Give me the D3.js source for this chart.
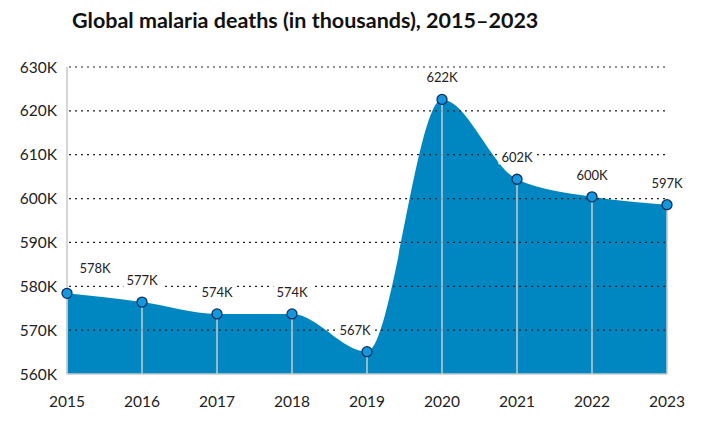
<!DOCTYPE html>
<html>
<head>
<meta charset="utf-8">
<script src="https://cdn.jsdelivr.net/npm/d3@7"></script>
<style>
  body { margin: 0; background: #fff; font-family: Lato, "DejaVu Sans", sans-serif; }
  .title { font-size: 21.5px; font-weight: 700; fill: #111; }
  .tick { font-size: 15.5px; fill: #222; }
  .lbl { font-size: 13px; fill: #222; }
</style>
</head>
<body>
<div id="container"><svg></svg></div>
<script>
const years = ['2015', '2016', '2017', '2018', '2019', '2020', '2021', '2022', '2023'];
// deaths in thousands
const deaths = [578.4, 576.4, 573.7, 573.7, 565.1, 622.6, 604.4, 600.4, 598.6];
const pointLabels = ['578K', '577K', '574K', '574K', '567K', '622K', '602K', '600K', '597K'];
const yTicks = [560, 570, 580, 590, 600, 610, 620, 630];

const width = 714, height = 431;
const margin = {left: 67, right: 47, top: 67, bottom: 57};

let svg = d3.select('#container').select('svg')
    .attr('width', width)
    .attr('height', height);

let x = d3.scalePoint().domain(years).range([margin.left, width - margin.right]);
let y = d3.scaleLinear().domain([560, 630]).range([height - margin.bottom, margin.top]);

let data = years.map((d, i) => ({year: d, value: deaths[i], label: pointLabels[i]}));

// title
svg.append('text')
    .attr('class', 'title')
    .attr('x', 72)
    .attr('y', 28)
    .text('Global malaria deaths (in thousands), 2015\u20132023');

// area
let area = d3.area()
    .x(d => x(d.year))
    .y0(y(560))
    .y1(d => y(d.value))
    .curve(d3.curveMonotoneX);
svg.append('path')
    .datum(data)
    .attr('fill', '#0087c1')
    .attr('d', area);

// axis lines
svg.append('line')
    .attr('x1', x(years[0])).attr('x2', x(years[0]))
    .attr('y1', y(630)).attr('y2', y(560))
    .attr('stroke', '#c8c8c8').attr('stroke-width', 1.5);
svg.append('line')
    .attr('x1', x(years[0])).attr('x2', x(years[years.length - 1]))
    .attr('y1', y(560)).attr('y2', y(560))
    .attr('stroke', '#c8c8c8').attr('stroke-width', 1.5);

// dotted grid
svg.append('g')
    .selectAll('line')
    .data(yTicks.slice(1))
    .enter()
    .append('line')
    .attr('x1', x(years[0]) + 2)
    .attr('x2', x(years[years.length - 1]))
    .attr('y1', d => y(d))
    .attr('y2', d => y(d))
    .attr('stroke', '#222')
    .attr('stroke-width', 1.2)
    .attr('stroke-dasharray', '2,4');

// y tick labels
svg.append('g')
    .selectAll('text')
    .data(yTicks)
    .enter()
    .append('text')
    .attr('class', 'tick')
    .attr('x', 57)
    .attr('y', d => y(d))
    .attr('dy', '0.36em')
    .attr('text-anchor', 'end')
    .text(d => d + 'K');

// x tick labels
svg.append('g')
    .selectAll('text')
    .data(years)
    .enter()
    .append('text')
    .attr('class', 'tick')
    .attr('x', d => x(d))
    .attr('y', 407)
    .attr('text-anchor', 'middle')
    .text(d => d);

// drop lines
svg.append('g')
    .selectAll('line')
    .data(data)
    .enter()
    .append('line')
    .attr('x1', d => x(d.year))
    .attr('x2', d => x(d.year))
    .attr('y1', d => y(d.value))
    .attr('y2', y(560))
    .attr('stroke', '#c8c8c8')
    .attr('stroke-width', 1.5);

// point labels with white backing
let labelShift = {'2015': [28, -3], '2019': [-12, 0]};
let lbls = svg.append('g')
    .selectAll('g')
    .data(data)
    .enter()
    .append('g')
    .attr('transform', d => {
        let s = labelShift[d.year] || [0, 0];
        return 'translate(' + (x(d.year) + s[0]) + ',' + (y(d.value) - 17 + s[1]) + ')';
    });
lbls.append('rect').attr('fill', '#fff');
lbls.append('text')
    .attr('class', 'lbl')
    .attr('text-anchor', 'middle')
    .text(d => d.label);
lbls.each(function() {
    let g = d3.select(this);
    let b = g.select('text').node().getBBox();
    g.select('rect')
        .attr('x', b.x - 3).attr('y', b.y + 1)
        .attr('width', b.width + 6).attr('height', b.height - 2);
});

// points
svg.append('g')
    .selectAll('circle')
    .data(data)
    .enter()
    .append('circle')
    .attr('cx', d => x(d.year))
    .attr('cy', d => y(d.value))
    .attr('r', 5)
    .attr('fill', '#1497dd')
    .attr('stroke', '#0b2f63')
    .attr('stroke-width', 1.3);
</script>
</body>
</html>
